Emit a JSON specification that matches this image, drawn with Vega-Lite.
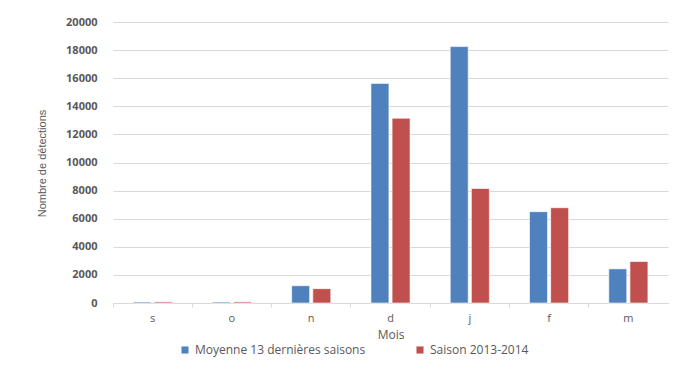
{
  "$schema": "https://vega.github.io/schema/vega-lite/v6.json",
  "width": 555,
  "height": 281,
  "autosize": {"type": "none"},
  "padding": {"left": 113, "top": 22, "right": 16, "bottom": 76},
  "background": "white",
  "config": {
    "view": {"stroke": null},
    "font": "Open Sans",
    "axis": {"labelColor": "#595959", "titleColor": "#595959", "labelFont": "Open Sans", "titleFont": "Open Sans"}
  },
  "data": {
    "values": [
      {"mois": "s", "serie": "Moyenne 13 dernières saisons", "detections": 70},
      {"mois": "s", "serie": "Saison 2013-2014", "detections": 80},
      {"mois": "o", "serie": "Moyenne 13 dernières saisons", "detections": 70},
      {"mois": "o", "serie": "Saison 2013-2014", "detections": 80},
      {"mois": "n", "serie": "Moyenne 13 dernières saisons", "detections": 1230},
      {"mois": "n", "serie": "Saison 2013-2014", "detections": 1020},
      {"mois": "d", "serie": "Moyenne 13 dernières saisons", "detections": 15630},
      {"mois": "d", "serie": "Saison 2013-2014", "detections": 13150},
      {"mois": "j", "serie": "Moyenne 13 dernières saisons", "detections": 18250},
      {"mois": "j", "serie": "Saison 2013-2014", "detections": 8150},
      {"mois": "f", "serie": "Moyenne 13 dernières saisons", "detections": 6500},
      {"mois": "f", "serie": "Saison 2013-2014", "detections": 6780},
      {"mois": "m", "serie": "Moyenne 13 dernières saisons", "detections": 2430},
      {"mois": "m", "serie": "Saison 2013-2014", "detections": 2950}
    ]
  },
  "mark": {"type": "bar", "stroke": "white", "strokeWidth": 0.6},
  "encoding": {
    "x": {
      "field": "mois",
      "type": "nominal",
      "sort": ["s", "o", "n", "d", "j", "f", "m"],
      "scale": {"paddingInner": 0, "paddingOuter": 0},
      "axis": {
        "title": "Mois",
        "titleFontSize": 12,
        "titleFontWeight": "normal",
        "titlePadding": 6,
        "labelAngle": 0,
        "labelFontSize": 11,
        "labelPadding": 5,
        "domainColor": "#d9d9d9",
        "tickColor": "#d9d9d9",
        "tickSize": 4,
        "bandPosition": 0,
        "grid": false
      }
    },
    "xOffset": {
      "field": "serie",
      "type": "nominal",
      "scale": {"paddingInner": 0.15, "paddingOuter": 0.95}
    },
    "y": {
      "field": "detections",
      "type": "quantitative",
      "scale": {"domain": [0, 20000], "nice": false},
      "axis": {
        "title": "Nombre de détections",
        "titleFont": "Liberation Sans",
        "titleFontSize": 11,
        "titleFontWeight": "normal",
        "titleX": -71,
        "titleY": 141,
        "titleAngle": -90,
        "titleAlign": "center",
        "titleBaseline": "middle",
        "values": [0, 2000, 4000, 6000, 8000, 10000, 12000, 14000, 16000, 18000, 20000],
        "format": "d",
        "labelFontSize": 11,
        "labelFontWeight": "bold",
        "labelPadding": 16,
        "domain": false,
        "ticks": false,
        "gridColor": "#d9d9d9",
        "gridWidth": 1
      }
    },
    "color": {
      "field": "serie",
      "type": "nominal",
      "scale": {
        "domain": ["Moyenne 13 dernières saisons", "Saison 2013-2014"],
        "range": ["#4f81bd", "#c0504d"]
      },
      "legend": {
        "title": null,
        "orient": "none",
        "direction": "horizontal",
        "legendX": 66,
        "legendY": 322,
        "symbolType": "square",
        "symbolSize": 50,
        "symbolStrokeWidth": 0,
        "labelFontSize": 12,
        "labelColor": "#595959",
        "labelLimit": 300,
        "columnPadding": 48
      }
    }
  }
}
